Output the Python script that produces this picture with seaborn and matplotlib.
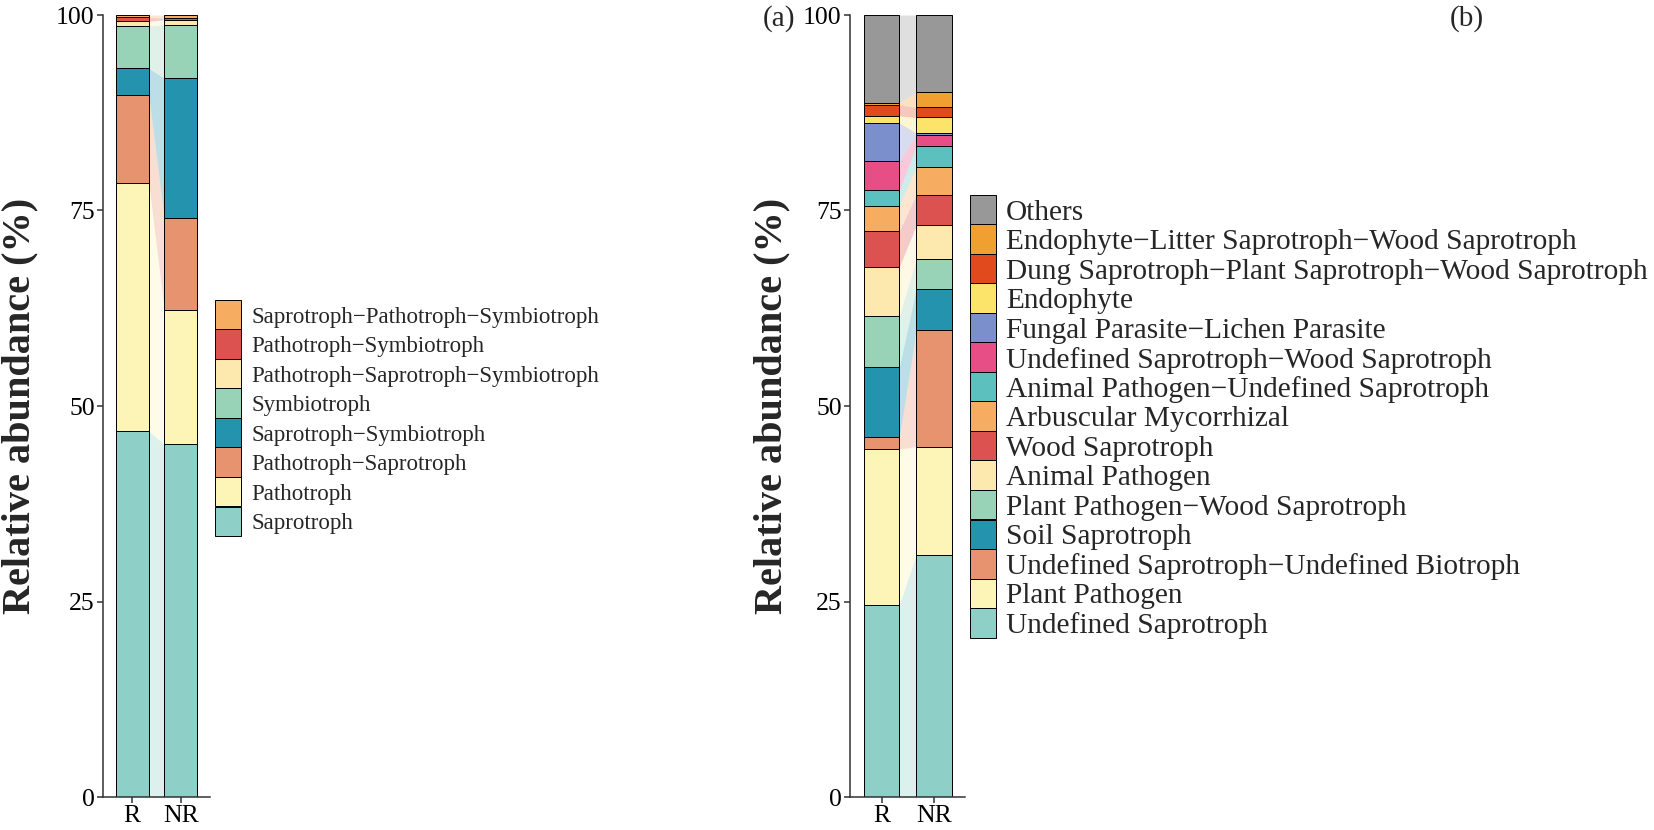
import matplotlib
matplotlib.use("Agg")
import matplotlib.pyplot as plt
from matplotlib.patches import Rectangle
import numpy as np
import pandas as pd
import seaborn as sns

M = "\u2212"

groups = ["R", "NR"]

# panel (a): functional guilds, bottom of the stack first
guild_a = [
    "Saprotroph",
    "Pathotroph",
    f"Pathotroph{M}Saprotroph",
    f"Saprotroph{M}Symbiotroph",
    "Symbiotroph",
    f"Pathotroph{M}Saprotroph{M}Symbiotroph",
    f"Pathotroph{M}Symbiotroph",
    f"Saprotroph{M}Pathotroph{M}Symbiotroph",
]
r_a = [46.8, 31.7, 11.3, 3.4, 5.4, 0.6, 0.5, 0.3]
nr_a = [45.1, 17.2, 11.7, 17.9, 6.8, 0.7, 0.2, 0.4]
colors_a = ["#8ecfc7", "#fdf5b8", "#e8936f", "#2494ae", "#98d2b7",
            "#fde8ae", "#db5251", "#f6ad62"]

# panel (b): guild detail, bottom of the stack first
guild_b = [
    "Undefined Saprotroph",
    "Plant Pathogen",
    f"Undefined Saprotroph{M}Undefined Biotroph",
    "Soil Saprotroph",
    f"Plant Pathogen{M}Wood Saprotroph",
    "Animal Pathogen",
    "Wood Saprotroph",
    "Arbuscular Mycorrhizal",
    f"Animal Pathogen{M}Undefined Saprotroph",
    f"Undefined Saprotroph{M}Wood Saprotroph",
    f"Fungal Parasite{M}Lichen Parasite",
    "Endophyte",
    f"Dung Saprotroph{M}Plant Saprotroph{M}Wood Saprotroph",
    f"Endophyte{M}Litter Saprotroph{M}Wood Saprotroph",
    "Others",
]
r_b = [24.6, 19.9, 1.5, 9.0, 6.5, 6.3, 4.6, 3.2, 2.0, 3.7, 4.9, 0.9, 1.4, 0.3, 11.2]
nr_b = [31.0, 13.8, 14.9, 5.3, 3.8, 4.3, 3.9, 3.6, 2.6, 1.5, 0.2, 2.0, 1.3, 1.9, 9.9]
colors_b = ["#8ecfc7", "#fdf5b8", "#e8936f", "#2494ae", "#98d2b7",
            "#fde8ae", "#db5251", "#f6ad62", "#5cc1be", "#e84e86",
            "#7b8fcc", "#fce36a", "#e04a1c", "#f0a030", "#989898"]

W, H = 1654, 830
BAR_W = 0.68


def fx(px):
    return px / W


def fy(py):
    return 1 - py / H


def draw_panel(ax, labels, r_vals, nr_vals, colors):
    df = pd.DataFrame({"guild": labels, "R": r_vals, "NR": nr_vals})
    df["R_top"] = df["R"].cumsum()
    df["NR_top"] = df["NR"].cumsum()
    df["R_bot"] = df["R_top"] - df["R"]
    df["NR_bot"] = df["NR_top"] - df["NR"]

    # flows between the two columns
    xs = [BAR_W / 2, 1 - BAR_W / 2]
    for i, row in df.iterrows():
        ax.fill_between(xs, [row["R_bot"], row["NR_bot"]],
                        [row["R_top"], row["NR_top"]],
                        color=colors[i], alpha=0.3, linewidth=0, zorder=0)

    # stacked columns: draw cumulative bars from the top layer down
    for i in range(len(df) - 1, -1, -1):
        sns.barplot(x=groups, y=[df.loc[i, "R_top"], df.loc[i, "NR_top"]],
                    order=groups, color=colors[i], saturation=1,
                    width=BAR_W, edgecolor="black", linewidth=0.7,
                    errorbar=None, ax=ax, zorder=2)

    ax.set_xlim(-0.6, 1.6)
    ax.set_ylim(0, 100)
    ax.set_yticks([0, 25, 50, 75, 100])
    ax.set_xlabel("")
    ax.set_ylabel("Relative abundance (%)", fontsize=29, fontweight="bold")
    ax.tick_params(axis="both", labelsize=18.5, length=4, width=1.1,
                   color="#333333", labelcolor="black", pad=2)
    for side in ["left", "bottom"]:
        ax.spines[side].set_linewidth(1.1)
        ax.spines[side].set_color("#333333")
    sns.despine(ax=ax)


def draw_legend(fig, labels, colors, x0, y0, size, row=29.5, key_w=26):
    # ggplot-like legend, top of the stack listed first
    items = list(zip(labels, colors))[::-1]
    for k, (lab, col) in enumerate(items):
        top = y0 + k * row
        fig.add_artist(Rectangle((fx(x0), fy(top + row)), key_w / W, row / H,
                                 transform=fig.transFigure, facecolor=col,
                                 edgecolor="black", linewidth=0.7))
        fig.text(fx(x0 + key_w + 10), fy(top + row / 2), lab, fontsize=size,
                 ha="left", va="center_baseline")


def main() -> None:
    sns.set_theme(style="ticks")
    plt.rcParams["font.family"] = ["Liberation Serif", "DejaVu Serif"]
    plt.rcParams["axes.unicode_minus"] = True

    fig = plt.figure(figsize=(W / 100, H / 100), dpi=100)
    fig.patch.set_facecolor("white")

    ax_a = fig.add_axes([fx(103), fy(797), 107 / W, 782 / H])
    ax_b = fig.add_axes([fx(850), fy(797), 115.5 / W, 782 / H])

    draw_panel(ax_a, guild_a, r_a, nr_a, colors_a)
    draw_panel(ax_b, guild_b, r_b, nr_b, colors_b)
    ax_a.yaxis.set_label_coords(-0.60, 0.5)
    ax_b.yaxis.set_label_coords(-0.52, 0.5)

    draw_legend(fig, guild_a, colors_a, 215, 300, size=16.5)
    draw_legend(fig, guild_b, colors_b, 970, 195, size=21.2)

    fig.text(fx(779), fy(19), "(a)", fontsize=21, ha="center", va="center")
    fig.text(fx(1467), fy(19), "(b)", fontsize=21, ha="center", va="center")

    fig.savefig("out.png", dpi=100, facecolor="white")
    plt.close(fig)


if __name__ == "__main__":
    main()
